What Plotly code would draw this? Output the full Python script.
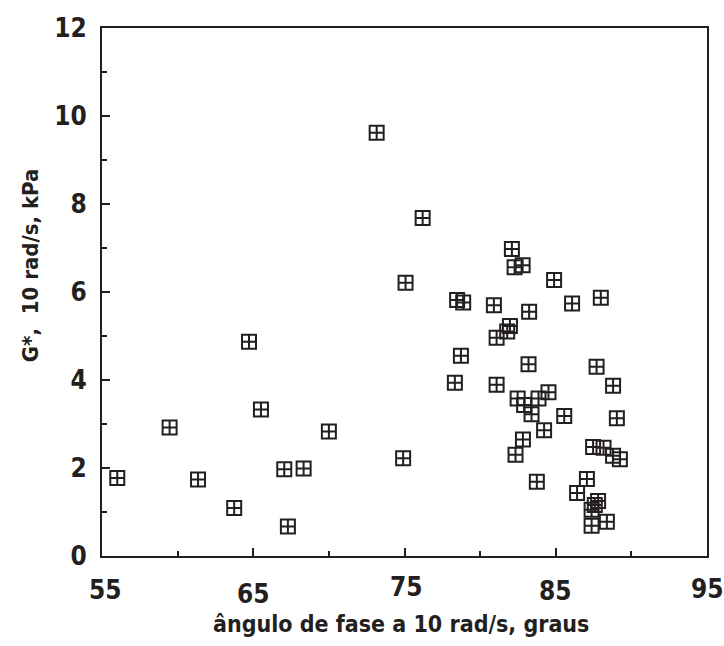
import plotly.graph_objects as go

# Phase angle at 10 rad/s (degrees) and complex modulus G* at 10 rad/s (kPa)
phase_angle = [
    56.01, 59.47, 61.35, 63.74, 64.72, 65.51, 67.05, 68.33, 67.29, 70.00,
    73.16, 74.91, 75.07, 76.20, 78.48, 78.88, 78.73, 78.33, 80.91, 81.09,
    81.09, 81.79, 81.97, 82.10, 82.28, 82.81, 82.34, 82.48, 82.83, 82.91,
    83.24, 83.20, 83.40, 83.75, 83.86, 84.23, 84.52, 84.89, 85.56, 86.08,
    86.41, 87.06, 87.37, 87.37, 87.47, 87.58, 87.70, 87.80, 87.98, 88.16,
    88.38, 88.79, 88.79, 89.04, 89.24,
]
g_star = [
    1.77, 2.92, 1.74, 1.09, 4.87, 3.33, 1.97, 1.99, 0.67, 2.83,
    9.62, 2.22, 6.21, 7.68, 5.82, 5.76, 4.55, 3.94, 5.70, 4.96,
    3.89, 5.10, 5.23, 6.98, 6.56, 6.61, 2.30, 3.58, 2.65, 3.43,
    5.55, 4.36, 3.22, 1.69, 3.58, 2.86, 3.72, 6.27, 3.18, 5.74,
    1.43, 1.75, 1.05, 0.69, 2.48, 1.16, 4.30, 1.25, 5.87, 2.46,
    0.78, 2.28, 3.87, 3.13, 2.20,
]

x_tick_values = [55, 65, 75, 85, 95]
x_tick_labels = ["55", "65", "75", "85", "95"]
y_tick_values = [0, 2, 4, 6, 8, 10, 12]

INK = "#231f20"
FONT = "DejaVu Sans Condensed, Liberation Sans Narrow, Liberation Sans, sans-serif"

# vertical offsets (px below the axis) of the staggered x tick labels
label_yshift = [-34, -37.5, -30.5, -34.5, -33]
label_xshift = [3, 0, 2, 0, 0]

fig = go.Figure()
fig.add_trace(go.Scatter(
    x=phase_angle, y=g_star, mode="markers",
    marker=dict(symbol="square-cross-open", size=14, color=INK,
                line=dict(width=2, color=INK)),
    showlegend=False,
))

for v, lab, dy, dx in zip(x_tick_values, x_tick_labels, label_yshift, label_xshift):
    fig.add_annotation(
        x=v, y=0, xref="x", yref="paper", text=lab,
        showarrow=False, yshift=dy, xshift=dx, yanchor="middle", xanchor="center",
        font=dict(family=FONT, size=26, color=INK, weight="bold"),
    )

# axis titles
fig.add_annotation(
    x=0.494, y=0, xref="paper", yref="paper", text="ângulo de fase a 10 rad/s, graus",
    showarrow=False, yshift=-68, xanchor="center", yanchor="middle",
    font=dict(family=FONT, size=23, color=INK, weight="bold"),
)
fig.add_annotation(
    x=0, y=0.549, xref="paper", yref="paper", text="G*,  10 rad/s, kPa",
    showarrow=False, xshift=-72, xanchor="center", yanchor="middle", textangle=-90,
    font=dict(family=FONT, size=22, color=INK, weight="bold"),
)

fig.update_layout(
    width=724, height=646,
    margin=dict(l=102, r=17, t=28, b=90),
    paper_bgcolor="white", plot_bgcolor="white",
    font=dict(family=FONT, color=INK),
)
fig.update_xaxes(
    range=[55, 95], tickvals=x_tick_values, showticklabels=False,
    ticks="inside", ticklen=8, tickwidth=2, tickcolor=INK,
    minor=dict(dtick=5, tick0=55, ticks="inside", ticklen=5, tickwidth=1.5, tickcolor=INK),
    showline=True, linewidth=2, linecolor=INK, mirror=True,
    showgrid=False, zeroline=False,
)
fig.update_yaxes(
    range=[0, 12], tickvals=y_tick_values,
    ticks="inside", ticklen=8, tickwidth=2, tickcolor=INK,
    minor=dict(dtick=1, tick0=0, ticks="inside", ticklen=5, tickwidth=1.5, tickcolor=INK),
    tickfont=dict(family=FONT, size=26, color=INK, weight="bold"),
    ticklabelstandoff=8,
    showline=True, linewidth=2, linecolor=INK, mirror=True,
    showgrid=False, zeroline=False,
)

fig.write_html("out.html")
